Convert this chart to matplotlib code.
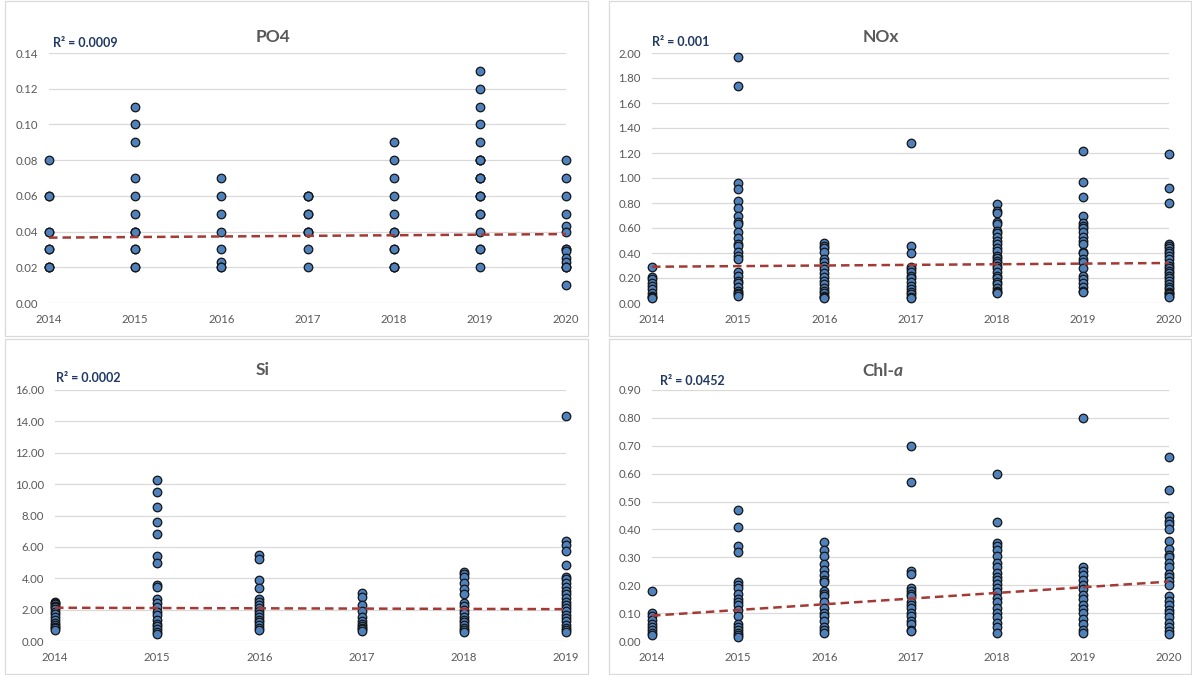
import numpy as np
import matplotlib
matplotlib.use("Agg")
import matplotlib.pyplot as plt
from matplotlib.patches import Rectangle
from matplotlib.ticker import FormatStrFormatter

# sampling years for each panel
years = [2014, 2015, 2016, 2017, 2018, 2019, 2020]
si_years = [2014, 2015, 2016, 2017, 2018, 2019]

# PO4 (one list per year)
po4_values = [
    [0.08, 0.06, 0.06, 0.04, 0.04, 0.03, 0.03, 0.02, 0.02, 0.02],
    [0.11, 0.10, 0.09, 0.07, 0.06, 0.05, 0.04, 0.04, 0.04, 0.03, 0.03, 0.02, 0.02],
    [0.07, 0.06, 0.05, 0.04, 0.03, 0.023, 0.02, 0.02],
    [0.06, 0.06, 0.06, 0.05, 0.05, 0.04, 0.04, 0.04, 0.03, 0.02],
    [0.09, 0.08, 0.07, 0.06, 0.05, 0.04, 0.04, 0.03, 0.03, 0.02, 0.02, 0.02],
    [0.13, 0.12, 0.11, 0.10, 0.09, 0.08, 0.08, 0.08, 0.07, 0.07, 0.07,
     0.06, 0.06, 0.06, 0.05, 0.05, 0.04, 0.03, 0.03, 0.02],
    [0.08, 0.07, 0.06, 0.05, 0.043, 0.04, 0.03, 0.03, 0.029, 0.025, 0.023,
     0.02, 0.02, 0.02, 0.01],
]
po4_trend = [0.0366, 0.0386]
po4_r2 = "R² = 0.0009"

# NOx
nox_values = [
    [0.29, 0.21, 0.19, 0.16, 0.14, 0.11, 0.08, 0.06, 0.05, 0.04],
    [1.97, 1.74, 0.96, 0.91, 0.82, 0.76, 0.70, 0.65, 0.63, 0.57, 0.52, 0.47,
     0.46, 0.41, 0.38, 0.35, 0.25, 0.22, 0.18, 0.16, 0.13, 0.10, 0.08, 0.07, 0.06],
    [0.48, 0.46, 0.44, 0.41, 0.35, 0.33, 0.30, 0.27, 0.24, 0.21, 0.18, 0.15,
     0.12, 0.10, 0.08, 0.06, 0.05, 0.04],
    [1.28, 0.46, 0.40, 0.29, 0.27, 0.25, 0.22, 0.20, 0.17, 0.14, 0.11, 0.09,
     0.07, 0.05, 0.04],
    [0.79, 0.74, 0.72, 0.65, 0.63, 0.58, 0.56, 0.53, 0.50, 0.47, 0.44, 0.42,
     0.38, 0.36, 0.34, 0.32, 0.30, 0.28, 0.25, 0.22, 0.20, 0.17, 0.15, 0.12,
     0.10, 0.09, 0.08],
    [1.22, 0.97, 0.85, 0.70, 0.64, 0.62, 0.60, 0.57, 0.53, 0.50, 0.47, 0.41,
     0.40, 0.35, 0.33, 0.28, 0.22, 0.19, 0.16, 0.13, 0.10, 0.09],
    [1.19, 0.92, 0.80, 0.47, 0.46, 0.44, 0.42, 0.40, 0.38, 0.35, 0.32, 0.30,
     0.28, 0.26, 0.24, 0.22, 0.20, 0.18, 0.15, 0.13, 0.11, 0.09, 0.08, 0.07,
     0.06, 0.05],
]
nox_trend = [0.29, 0.32]
nox_r2 = "R² = 0.001"

# Si
si_values = [
    [2.50, 2.42, 2.35, 2.25, 2.15, 2.05, 1.85, 1.70, 1.50, 1.35, 1.15, 1.00,
     0.90, 0.80, 0.70],
    [10.25, 9.50, 8.55, 7.60, 6.85, 5.45, 5.00, 3.60, 3.45, 2.65, 2.40, 2.15,
     1.85, 1.65, 1.35, 1.10, 0.95, 0.75, 0.55, 0.45],
    [5.50, 5.20, 3.90, 3.35, 2.65, 2.50, 2.30, 2.10, 1.90, 1.70, 1.50, 1.35,
     1.20, 1.00, 0.85, 0.70],
    [3.05, 2.80, 2.30, 1.90, 1.55, 1.30, 1.10, 0.95, 0.85, 0.75, 0.65],
    [4.40, 4.25, 4.10, 3.70, 3.30, 3.00, 2.45, 2.25, 2.00, 1.80, 1.55, 1.35,
     1.20, 1.00, 0.85, 0.70, 0.60],
    [14.35, 6.35, 6.10, 5.75, 4.85, 4.05, 3.95, 3.70, 3.45, 3.20, 3.00, 2.75,
     2.50, 2.30, 2.10, 1.90, 1.65, 1.45, 1.25, 1.05, 0.85, 0.70, 0.60],
]
si_trend = [2.12, 2.03]
si_r2 = "R² = 0.0002"

# Chl-a
chl_values = [
    [0.18, 0.10, 0.09, 0.075, 0.06, 0.05, 0.04, 0.03, 0.02],
    [0.47, 0.41, 0.34, 0.32, 0.21, 0.20, 0.19, 0.17, 0.15, 0.14, 0.13, 0.11,
     0.09, 0.06, 0.05, 0.04, 0.03, 0.02, 0.015],
    [0.355, 0.325, 0.305, 0.275, 0.255, 0.235, 0.22, 0.21, 0.18, 0.17, 0.16,
     0.14, 0.12, 0.10, 0.09, 0.07, 0.05, 0.04, 0.03],
    [0.70, 0.57, 0.25, 0.24, 0.19, 0.18, 0.17, 0.16, 0.14, 0.13, 0.12, 0.10,
     0.09, 0.07, 0.06, 0.04, 0.035],
    [0.60, 0.425, 0.35, 0.34, 0.325, 0.305, 0.28, 0.265, 0.245, 0.23, 0.22,
     0.205, 0.19, 0.175, 0.155, 0.14, 0.12, 0.10, 0.085, 0.065, 0.05, 0.03],
    [0.80, 0.265, 0.25, 0.235, 0.22, 0.20, 0.185, 0.165, 0.15, 0.13, 0.115,
     0.10, 0.08, 0.06, 0.04, 0.03],
    [0.66, 0.54, 0.45, 0.43, 0.42, 0.40, 0.36, 0.33, 0.31, 0.30, 0.28, 0.265,
     0.24, 0.23, 0.215, 0.20, 0.16, 0.145, 0.13, 0.11, 0.10, 0.085, 0.065,
     0.05, 0.035, 0.025],
]
chl_trend = [0.091, 0.213]
chl_r2 = "R² = 0.0452"

BLUE = "#4F81BD"
EDGE = "#141414"
RED = "#A33A35"
GRID = "#D9D9D9"
TXT = "#595959"
NAVY = "#1F3864"

W, H = 1192, 675
plt.rcParams['font.family'] = ['Lato', 'DejaVu Sans']
fig = plt.figure(figsize=(W / 100, H / 100), dpi=100)


def fx(x):
    return x / W


def fy(y):
    return 1 - y / H


def add_axes_px(left, right, top, bottom):
    return fig.add_axes([fx(left), fy(bottom), (right - left) / W, (bottom - top) / H])


def draw_panel(ax, xs, values, trend, ymax, ystep):
    for yr, vals in zip(xs, values):
        ax.scatter([yr] * len(vals), vals, s=38, c=BLUE, edgecolors=EDGE,
                   linewidths=0.9, zorder=3, clip_on=False)
    ax.plot([xs[0], xs[-1]], trend, color=RED, lw=1.8, ls=(0, (3.4, 2.0)),
            zorder=4, clip_on=False)
    ax.set_xlim(xs[0], xs[-1])
    ax.set_ylim(0, ymax)
    ax.set_xticks(xs)
    ax.set_yticks(np.arange(0, ymax + ystep / 2, ystep))
    ax.yaxis.set_major_formatter(FormatStrFormatter('%.2f'))
    ax.grid(axis='y', color=GRID, lw=0.9)
    ax.set_axisbelow(True)
    for s in ax.spines.values():
        s.set_visible(False)
    ax.tick_params(length=0, labelsize=8.2, labelcolor=TXT, pad=8)


# panel frames
for (x0, y0, x1, y1) in [(5, 1, 588, 336), (609, 1, 1191, 336),
                         (5, 339, 588, 674), (609, 339, 1191, 674)]:
    fig.add_artist(Rectangle((fx(x0), fy(y1)), (x1 - x0) / W, (y1 - y0) / H,
                             transform=fig.transFigure, fill=False,
                             edgecolor=GRID, lw=0.9))

ax1 = add_axes_px(49, 566, 53, 303)
draw_panel(ax1, years, po4_values, po4_trend, 0.14, 0.02)
ax2 = add_axes_px(652, 1169, 53, 303)
draw_panel(ax2, years, nox_values, nox_trend, 2.0, 0.2)
ax3 = add_axes_px(55, 566, 390, 641)
draw_panel(ax3, si_years, si_values, si_trend, 16.0, 2.0)
ax4 = add_axes_px(652, 1169, 390, 641)
draw_panel(ax4, years, chl_values, chl_trend, 0.90, 0.10)

# titles
title_kw = dict(fontsize=12.5, fontweight='bold', color=TXT, va='center')
fig.text(fx(273), fy(37), "PO4", ha='center', **title_kw)
fig.text(fx(881), fy(37), "NOx", ha='center', **title_kw)
fig.text(fx(263), fy(370), "Si", ha='center', **title_kw)
fig.text(fx(894), fy(371), "Chl-", ha='right', **title_kw)
fig.text(fx(894), fy(371), "a", ha='left', fontstyle='italic', **title_kw)

# R² labels
r2_kw = dict(fontsize=9, fontweight='bold', color=NAVY, va='center', ha='left')
fig.text(fx(53), fy(43), po4_r2, **r2_kw)
fig.text(fx(652), fy(42), nox_r2, **r2_kw)
fig.text(fx(56), fy(378), si_r2, **r2_kw)
fig.text(fx(660), fy(381), chl_r2, **r2_kw)

fig.savefig("out.png", dpi=100)
